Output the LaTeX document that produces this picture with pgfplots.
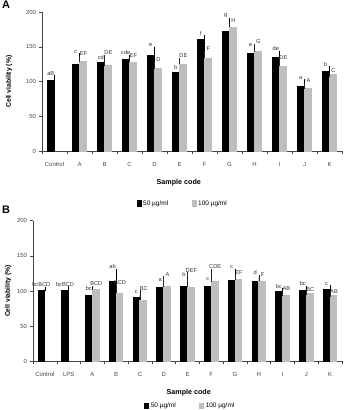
\documentclass[border=0pt]{standalone}
\usepackage{pgfplots}
\usepackage{pgfplotstable}
\pgfplotsset{compat=1.18}
\usepackage{fontspec}
\setmainfont{Liberation Sans}
\definecolor{barGray}{RGB}{190,190,190}
\definecolor{axGray}{RGB}{70,70,70}

\pgfplotstableread{
x lab b be g ge lb lg
0 Control 102 4 nan nan aB {}
1 A 125 13 128.6 5.5 c EF
2 B 126.8 1.5 122.5 13.5 cd DE
3 C 132 4 127.8 3.5 cde EF
4 D 137.8 9.5 118.6 7.5 e D
5 E 113.4 1.8 125.3 5.8 b DE
6 F 160.5 3.5 133.3 9 f F
7 G 171.7 17.5 178 4 g H
8 H 139.7 8.3 143 8.3 e G
9 I 134.6 7 122.3 7.2 de DE
10 J 93 7.8 89.7 5.8 a A
11 K 115 4.4 110 0 b C
}\tabA

\pgfplotstableread{
x lab b be g ge lb lg
0 Control 101 2 nan nan bcBCD {}
1 LPS 101 3 nan nan bcBCD {}
2 A 94 4 102 2.5 bc BCD
3 B 114 15 97 10 ab BCD
4 C 90.5 3 87 11 c BC
5 D 105 6 106 12 a A
6 E 106 11 105 19 b DEF
7 F 106 6 113 15.5 c CDE
8 G 115 13.5 116 4 c EF
9 H 113 7 114 3.5 d F
10 I 99 2 93.5 4 bc AB
11 J 100 4.5 96.7 0 bc BC
12 K 102 3 94.3 0 c AB
}\tabB

\pgfplotsset{
  panel/.style={
    scale only axis,
    anchor=south west,
    axis lines=left,
    axis line style={-, draw=axGray, line width=0.5pt},
    tick align=outside,
    ymin=0, ymax=200,
    ytick={0,50,100,150,200},
    major tick length=2.5bp,
    minor tick length=3bp,
    major x tick style={draw=none},
    minor x tick style={draw=axGray, line width=0.5pt},
    y tick style={draw=axGray, line width=0.5pt},
    tick label style={font=\fontsize{6}{7}\selectfont, text=axGray},
    xticklabel style={yshift=-5bp},
    /pgf/number format/assume math mode=true,
    ylabel={Cell viability (\%)},
    xlabel={Sample code},
    legend columns=2,
    legend style={draw=none, fill=none, font=\fontsize{6.5}{7}\selectfont, anchor=center,
      /tikz/every even column/.append style={column sep=22bp}},
    legend image code/.code={\fill[#1] (0bp,-2.6bp) rectangle (4bp,2.6bp);},
    clip=false,
  },
  blk/.style={ybar, bar width=#1, bar shift=-#1/2, fill=black, draw=black, line width=0pt,
    error bars/.cd, y dir=plus, y explicit, error mark=-,
    error bar style={black, line width=0.6pt},
    error mark options={black, line width=0.6pt, mark size=2bp}},
  gry/.style={ybar, bar width=#1, bar shift=#1/2, fill=barGray, draw=barGray, line width=0pt,
    error bars/.cd, y dir=plus, y explicit, error mark=-,
    error bar style={black!85, line width=0.6pt},
    error mark options={black!85, line width=0.6pt, mark size=2bp}},
  lett/.style={draw=none, forget plot, nodes near coords, point meta=explicit symbolic,
    nodes near coords style={font=\fontsize{5.7}{6}\selectfont, text=black!80, anchor=south, inner sep=0.6bp, yshift=1.2bp, xshift=#1}},
}

\begin{document}
\begin{tikzpicture}
\useasboundingbox (0bp,0bp) rectangle (347bp,410bp);

% Panel A
\begin{axis}[panel,
  at={(42bp,258.7bp)}, width=300bp, height=139.3bp,
  xmin=-0.5, xmax=11.5,
  xtick={0,...,11},
  xticklabels={Control,A,B,C,D,E,F,G,H,I,J,K},
  minor xtick={-0.5,0.5,...,11.5},
  every axis y label/.style={at={(rel axis cs:0,0.5)}, xshift=-33bp, rotate=90, anchor=center, font=\bfseries\fontsize{6.8}{8}\selectfont},
  every axis x label/.style={at={(rel axis cs:0.456,0)}, yshift=-31.5bp, anchor=center, font=\bfseries\fontsize{7.2}{8}\selectfont},
  legend style={at={(rel axis cs:0.47,-0.375)}},
]
\addplot[blk=7bp] table[x=x, y=b, y error=be] {\tabA};
\addlegendentry{50 µg/ml}
\addplot[gry=7bp] table[x=x, y=g, y error=ge] {\tabA};
\addlegendentry{100 µg/ml}
\addplot[lett=-3.7bp] table[x=x, y expr=\thisrow{b}+\thisrow{be}, meta=lb] {\tabA};
\addplot[lett=3.9bp] table[x=x, y expr=\thisrow{g}+\thisrow{ge}, meta=lg] {\tabA};
\end{axis}

% Panel B
\begin{axis}[panel,
  at={(33bp,48.7bp)}, width=309bp, height=140.6bp,
  xmin=-0.5, xmax=12.5,
  xtick={0,...,12},
  xticklabels={Control,LPS,A,B,C,D,E,F,G,H,I,J,K},
  minor xtick={-0.5,0.5,...,12.5},
  every axis y label/.style={at={(rel axis cs:0,0.5)}, xshift=-25bp, rotate=90, anchor=center, font=\bfseries\fontsize{6.8}{8}\selectfont},
  every axis x label/.style={at={(rel axis cs:0.504,0)}, yshift=-31.5bp, anchor=center, font=\bfseries\fontsize{7.2}{8}\selectfont},
  legend style={at={(rel axis cs:0.51,-0.32)}},
]
\addplot[blk=6.8bp] table[x=x, y=b, y error=be] {\tabB};
\addlegendentry{50 µg/ml}
\addplot[gry=6.8bp] table[x=x, y=g, y error=ge] {\tabB};
\addlegendentry{100 µg/ml}
\addplot[lett=-3.6bp] table[x=x, y expr=\thisrow{b}+\thisrow{be}, meta=lb] {\tabB};
\addplot[lett=3.9bp] table[x=x, y expr=\thisrow{g}+\thisrow{ge}, meta=lg] {\tabB};
\end{axis}

\node[anchor=north west, inner sep=0pt, font=\bfseries\fontsize{11}{11}\selectfont] at (2bp,409bp) {A};
\node[anchor=north west, inner sep=0pt, font=\bfseries\fontsize{11}{11}\selectfont] at (2bp,204bp) {B};
\end{tikzpicture}
\end{document}
